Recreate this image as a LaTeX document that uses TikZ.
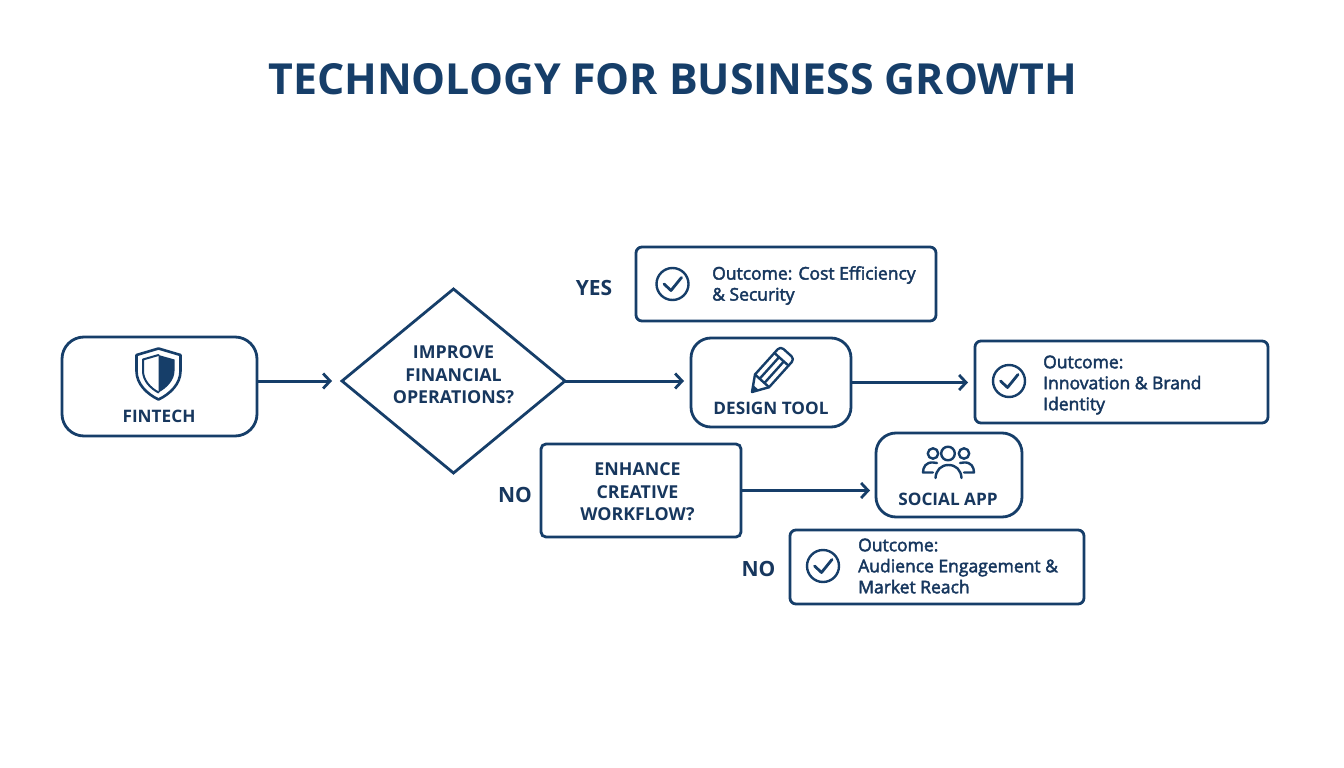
\documentclass[tikz,border=0pt]{standalone}
\usepackage{fontspec}
\setmainfont{Open Sans}
\usetikzlibrary{arrows.meta,shapes.geometric}
\definecolor{navy}{HTML}{163E69}
\definecolor{ink}{HTML}{17375E}
\newfontfamily\semi{Open Sans}[FakeBold=2.5]
\tikzset{
  softbox/.style={draw=navy,line width=2.8pt,rounded corners=#1,fill=white,inner sep=0pt,outer sep=0pt},
  flowline/.style={draw=navy,line width=3pt,-{Straight Barb[length=7pt,width=15pt,line width=2.8pt]}},
  icon/.style={draw=navy,line width=2.4pt,line cap=round,line join=round},
  boxlabel/.style={text=ink,font=\fontsize{17.2}{22}\selectfont\bfseries,inner sep=0pt},
  branch/.style={text=ink,font=\fontsize{21}{25}\selectfont\bfseries,inner sep=0pt},
  question/.style={text=ink,align=center,font=\fontsize{17.8}{22.6}\selectfont\bfseries,inner sep=0pt},
  outcome/.style={text=ink,align=left,anchor=west,font=\fontsize{17.5}{21}\selectfont\semi,inner sep=0pt},
}
\newcommand{\checkmarkicon}[2]{%
  \draw[icon] (#1,#2) circle (16);
  \draw[icon,line width=2.8pt] (#1-8.5,#2) -- (#1-1.5,#2+6.5) -- (#1+9,#2-6.5);}
\begin{document}
\begin{tikzpicture}[x=1pt,y=-1pt]
\useasboundingbox (0,0) rectangle (1344,768);
\fill[white] (0,0) rectangle (1344,768);
\node[text=navy,font=\fontsize{42.8}{50}\selectfont\bfseries,inner sep=0pt] (title) at (672.5,79.5) {TECHNOLOGY FOR BUSINESS GROWTH};

% boxes
\node[softbox=22pt,minimum width=195pt,minimum height=99pt] (fin) at (159.5,386.5) {};
\node[softbox=0pt,rounded corners=0pt,diamond,aspect=1.2,minimum width=223pt,minimum height=184pt] (dia) at (453.5,381) {};
\node[softbox=20pt,minimum width=160pt,minimum height=89pt] (des) at (771,382.5) {};
\node[softbox=6pt,minimum width=300pt,minimum height=74pt] (out1) at (786,284) {};
\node[softbox=6pt,minimum width=293pt,minimum height=82pt] (out2) at (1121.5,382) {};
\node[softbox=5pt,minimum width=200pt,minimum height=93pt] (enh) at (641,490.5) {};
\node[softbox=20pt,minimum width=146pt,minimum height=84pt] (soc) at (949,475) {};
\node[softbox=6pt,minimum width=294pt,minimum height=74pt] (out3) at (937,567) {};

% connectors
\draw[flowline,shorten >=10pt] (fin.east |- dia.west) -- (dia.west);
\draw[flowline,shorten >=7pt] (dia.east) -- (dia.east -| des.west);
\draw[flowline,shorten >=7pt] (des.east) -- (des.east -| out2.west);
\draw[flowline,shorten >=6pt] (enh.east) -- (enh.east -| soc.west);

% labels
\node[question] (dial) at (453.5,375) {IMPROVE\\FINANCIAL\\OPERATIONS?};
\node[question] (enhl) at (637.5,492) {ENHANCE\\CREATIVE\\WORKFLOW?};
\node[boxlabel] (finl) at (159,416.5) {FINTECH};
\node[boxlabel] (desl) at (771,408.5) {DESIGN TOOL};
\node[boxlabel] (socl) at (948,499.5) {SOCIAL APP};
\node[branch] (yes) at (594,288) {YES};
\node[branch] (no1) at (515,495) {NO};
\node[branch] (no2) at (758.5,569) {NO};
\node[outcome] (t1) at (712,285.5) {Outcome: Cost Efficiency\\\& Security};
\node[outcome] (t2) at (1043,385) {Outcome:\\Innovation \& Brand\\Identity};
\node[outcome] (t3) at (858,566) {Outcome:\\Audience Engagement \&\\Market Reach};

% check icons
\checkmarkicon{672.5}{284}
\checkmarkicon{1009}{381}
\checkmarkicon{823}{566}

% shield
\draw[icon,line width=2.6pt] (158.5,348.5) -- (180.5,355) -- (180.5,371) .. controls (180.5,384) and (170,394) .. (158.5,399.5) .. controls (147,394) and (136.5,384) .. (136.5,371) -- (136.5,355) -- cycle;
\draw[icon,line width=2pt] (158.5,355) -- (143,359.5) -- (143,371) .. controls (143,380) and (150,388) .. (158.5,392.5);
\fill[navy] (158.5,355) -- (174.5,359.5) -- (174.5,371) .. controls (174.5,380) and (167,388) .. (158.5,392.5) -- cycle;

% pencil
\begin{scope}[shift={(752,392)},rotate=48]
\draw[icon] (0,0) -- (15,9.5) -- (46,9.5) [rounded corners=4pt] -- (53,9.5) -- (53,-9.5) [rounded corners=0pt] -- (46,-9.5) -- (15,-9.5) -- cycle;
\draw[icon] (15,9.5) -- (15,-9.5) (44,9.5) -- (44,-9.5) (15,3.2) -- (44,3.2) (15,-3.2) -- (44,-3.2);
\fill[navy] (0,0) -- (6,3.8) -- (6,-3.8) -- cycle;
\end{scope}

% people
\draw[icon] (948,453.5) circle (6.8);
\draw[icon] (933,453.5) circle (5.2) (964,453.5) circle (5.2);
\draw[icon] (935.5,478) .. controls (936,470) and (941,465) .. (948.5,465) .. controls (956,465) and (961,470) .. (961.5,478);
\draw[icon] (933,472.5) -- (923,472.5) .. controls (923,467) and (926,462) .. (933,462.5) -- (937,463);
\draw[icon] (964,472.5) -- (974,472.5) .. controls (974,467) and (971,462) .. (964,462.5) -- (960,463);
\end{tikzpicture}
\end{document}
